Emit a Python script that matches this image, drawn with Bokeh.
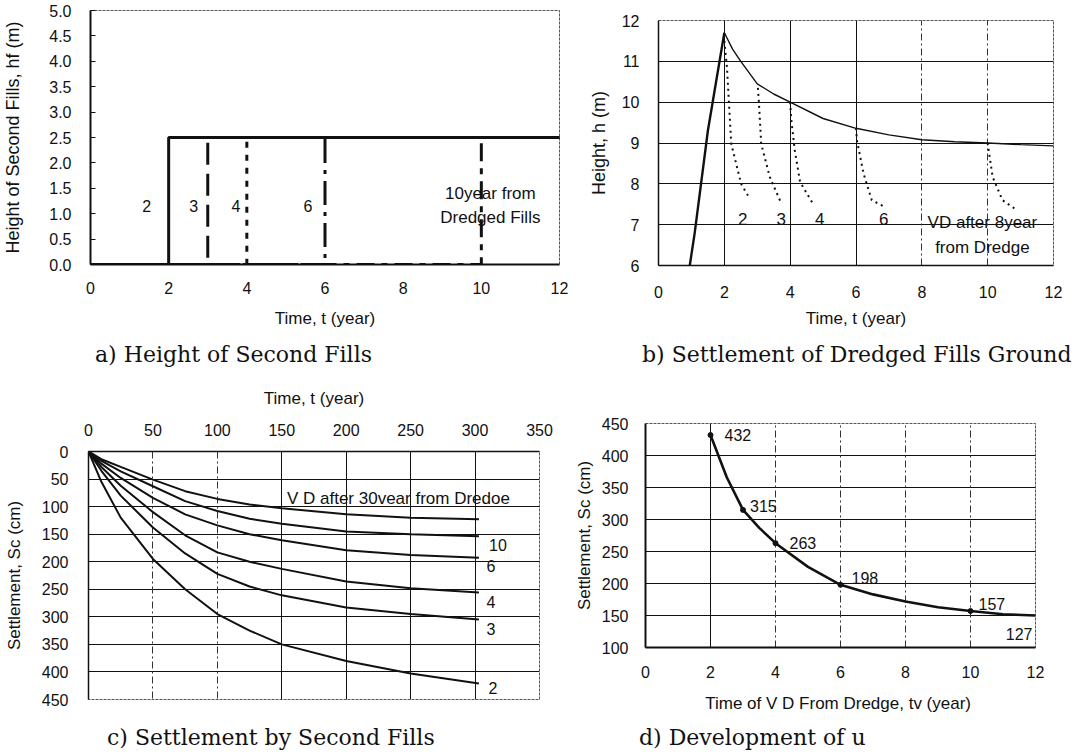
from bokeh.plotting import figure
from bokeh.layouts import column, row
from bokeh.models import Range1d, FixedTicker, Grid, Label, NumeralTickFormatter, Div
from bokeh.embed import file_html
from bokeh.resources import INLINE
from bokeh.core.properties import value

SANS = "Liberation Sans"
SERIF = "DejaVu Serif"
INK = "#111111"

# ---------------- data ----------------
# a) Height of Second Fills
a_vd_years = [2, 3, 4, 6, 10]
a_fill_height = 2.5
a_t_end = 12
a_vd_labels = ["2", "3", "4", "6"]
a_x_ticks = [0, 2, 4, 6, 8, 10, 12]
a_y_ticks = [0.0, 0.5, 1.0, 1.5, 2.0, 2.5, 3.0, 3.5, 4.0, 4.5, 5.0]

# b) Settlement of Dredged Fills Ground
b_fill_t = [0.95, 1.1, 1.5, 2.0]
b_fill_h = [6.0, 6.8, 9.3, 11.7]
b_settle_t = [2.0, 2.25, 2.5, 3.0, 3.5, 4.0, 5.0, 6.0, 7.0, 8.0, 9.0, 10.0, 11.0, 12.0]
b_settle_h = [11.7, 11.3, 11.0, 10.45, 10.2, 10.0, 9.6, 9.36, 9.2, 9.08, 9.03, 9.0, 8.96, 8.93]
b_vd_t = {
    2: [2.0, 2.08, 2.21, 2.51, 2.77],
    3: [3.02, 3.05, 3.12, 3.38, 3.73],
    4: [4.0, 4.03, 4.14, 4.30, 4.70],
    6: [6.0, 6.03, 6.23, 6.48, 6.84],
    10: [10.0, 10.01, 10.15, 10.45, 10.81],
}
b_vd_h = {
    2: [11.5, 10.85, 8.98, 8.0, 7.64],
    3: [10.35, 10.0, 8.98, 8.17, 7.52],
    4: [10.0, 9.6, 8.82, 8.05, 7.5],
    6: [9.36, 9.06, 8.25, 7.6, 7.45],
    10: [9.0, 8.94, 8.17, 7.6, 7.4],
}
b_curve_labels = ["2", "3", "4", "6"]
b_label_t = [2.56, 3.73, 4.9, 6.84]
b_label_h = [7.15, 7.15, 7.15, 7.15]
b_x_ticks = [0, 2, 4, 6, 8, 10, 12]
b_y_ticks = [6, 7, 8, 9, 10, 11, 12]

# c) Settlement by Second Fills
c_t = [0, 10, 25, 50, 75, 100, 125, 150, 200, 250, 303]
c_settle = {
    "2": [0, 55, 120, 195, 250, 295, 325, 350, 380, 403, 421],
    "3": [0, 35, 80, 138, 185, 222, 245, 261, 283, 295, 305],
    "4": [0, 28, 62, 110, 152, 183, 200, 213, 236, 248, 256],
    "6": [0, 22, 48, 84, 114, 134, 150, 161, 179, 188, 193],
    "10": [0, 17, 36, 63, 90, 108, 122, 131, 145, 150, 154],
    "30": [0, 14, 28, 51, 72, 86, 96, 103, 114, 120, 123],
}
c_labelled = ["10", "6", "4", "3", "2"]
c_x_ticks = [0, 50, 100, 150, 200, 250, 300, 350]
c_y_ticks = [0, 50, 100, 150, 200, 250, 300, 350, 400, 450]

# d) Development of u
d_tv = [2, 2.5, 3, 3.5, 4, 5, 6, 7, 8, 9, 10, 11, 12]
d_sc = [432, 366, 315, 287, 263, 226, 198, 183, 172, 163, 157, 152, 150]
d_pt_tv = [2, 3, 4, 6, 10, 12]
d_pt_sc = [432, 315, 263, 198, 157, 127]
d_x_ticks = [0, 2, 4, 6, 8, 10, 12]
d_y_ticks = [100, 150, 200, 250, 300, 350, 400, 450]

captions = ["a) Height of Second Fills", "b) Settlement of Dredged Fills Ground",
            "c) Settlement by Second Fills", "d) Development of u"]


# ---------------- helpers ----------------
def make_fig(width, height, xr, yr, borders, **kw):
    p = figure(width=width, height=height, x_range=Range1d(*xr), y_range=Range1d(*yr),
               output_backend="svg", toolbar_location=None, title=None,
               min_border_left=borders[0], min_border_right=borders[1],
               min_border_top=borders[2], min_border_bottom=borders[3], **kw)
    p.background_fill_color = "white"
    p.border_fill_color = "white"
    p.outline_line_color = "#555555"
    p.outline_line_width = 1
    p.outline_line_dash = "3 1"
    p.xgrid.grid_line_color = None
    p.ygrid.grid_line_color = None
    return p


def style_axis(ax, ticks, label, label_standoff, axis_label_standoff, tick_in=0, lw=1.5,
               label_size="17px"):
    ax.ticker = FixedTicker(ticks=ticks)
    ax.axis_label = label
    ax.axis_label_text_font = SANS
    ax.axis_label_text_font_size = label_size
    ax.axis_label_text_font_style = "normal"
    ax.axis_label_text_color = INK
    ax.axis_label_standoff = axis_label_standoff
    ax.major_label_text_font = SANS
    ax.major_label_text_font_size = "16px"
    ax.major_label_text_color = INK
    ax.major_label_standoff = label_standoff
    ax.major_tick_out = 0
    ax.major_tick_in = tick_in
    ax.major_tick_line_color = INK if tick_in else None
    ax.minor_tick_line_color = None
    ax.axis_line_color = INK
    ax.axis_line_width = lw


def caption_div(text, width, height, pad_left):
    html = ('<div style="padding-left:%dpx;font-family:\'DejaVu Serif\';font-size:22px;'
            'line-height:%dpx;white-space:nowrap;color:%s;">%s</div>' % (pad_left, height, INK, text))
    return Div(text=html, width=width, height=height, margin=(0, 0, 0, 0))


def add_grid(p, dim, ticks, dash="solid", color=INK, width=1):
    p.add_layout(Grid(dimension=dim, ticker=FixedTicker(ticks=ticks), grid_line_color=color,
                      grid_line_width=width, grid_line_dash=dash))


# ---------------- panel a ----------------
pa = make_fig(585, 340, (0, 12), (0, 5), (90, 26, 10, 76))
style_axis(pa.xaxis[0], a_x_ticks, "Time, t (year)", 17, 12, lw=2)
style_axis(pa.yaxis[0], a_y_ticks, "Height of Second Fills, hf (m)", 19, 23, tick_in=5, lw=2,
           label_size="18px")
pa.yaxis[0].formatter = NumeralTickFormatter(format="0.0")
a_dash = {2: "solid", 3: "22 9", 4: "6 7", 6: "24 7 4 7", 10: "18 7 6 7"}
for tv in reversed(a_vd_years):
    pa.line([0, tv, tv, a_t_end], [0, 0, a_fill_height, a_fill_height],
            line_color=INK, line_width=3, line_dash=a_dash[tv])
a_lab_dx = [-22, -14, -11, -17]
for lab, tv, dx in zip(a_vd_labels, a_vd_years, a_lab_dx):
    pa.text(x=[tv], y=[1.16], text=[lab], x_offset=dx, text_align="center", text_baseline="middle",
            text_font=value(SANS), text_font_size="16px", text_color=INK)
pa.add_layout(Label(x=a_vd_years[-1], y=1.16, x_offset=9, text="10year from\nDredged Fills",
                    text_align="center", text_baseline="middle", text_font=SANS,
                    text_font_size="17px", text_color=INK, text_line_height=1.3))

# ---------------- panel b ----------------
pb = make_fig(500, 340, (0, 12), (6, 12), (73, 32, 20, 75))
style_axis(pb.xaxis[0], b_x_ticks, "Time, t (year)", 20, 8)
style_axis(pb.yaxis[0], b_y_ticks, "Height, h (m)", 19, 10, label_size="18px")
add_grid(pb, 1, [7, 8, 9, 10, 11])
add_grid(pb, 0, [2, 4, 6])
add_grid(pb, 0, [8, 10], dash="7 3 2 3", color="#333333")
pb.line(b_fill_t, b_fill_h, line_color=INK, line_width=2.4)
pb.line(b_settle_t, b_settle_h, line_color=INK, line_width=1.4)
for k in b_vd_t:
    pb.line(b_vd_t[k], b_vd_h[k], line_color=INK, line_width=2, line_dash="2 4")
pb.text(x=b_label_t, y=b_label_h, text=b_curve_labels, text_align="center", text_baseline="middle",
        text_font=value(SANS), text_font_size="17px", text_color=INK)
pb.add_layout(Label(x=9.84, y=6.75, text="VD after 8year\nfrom Dredge", text_align="center",
                    text_baseline="middle", text_font=SANS, text_font_size="17px",
                    text_color=INK, text_line_height=1.3))

# ---------------- panel c ----------------
pc = make_fig(570, 354, (0, 350), (450, 0), (88, 31, 81, 25), x_axis_location="above")
style_axis(pc.xaxis[0], c_x_ticks, "Time, t (year)", 16, 13, lw=1.5)
style_axis(pc.yaxis[0], c_y_ticks, "Settlement, Sc (cm)", 20, 15, lw=1.5)
add_grid(pc, 1, c_y_ticks[1:-1])
add_grid(pc, 0, [150, 200, 250, 300])
add_grid(pc, 0, [50, 100], dash="7 3 2 3", color="#333333")
for key, vals in c_settle.items():
    pc.line(c_t, vals, line_color=INK, line_width=2)
c_lab_off = {"10": (19, -9), "6": (12, -8), "4": (12, -9), "3": (12, -9), "2": (14, -4)}
for key in c_labelled:
    dx, dy = c_lab_off[key]
    pc.text(x=[c_t[-1]], y=[c_settle[key][-1]], text=[key], x_offset=dx, y_offset=-dy,
            text_align="center", text_baseline="middle", text_font=value(SANS),
            text_font_size="16px", text_color=INK)
pc.add_layout(Label(x=154, y=86, text="V D after 30vear from Dredoe", text_align="left",
                    text_baseline="middle", text_font=SANS, text_font_size="17px", text_color=INK))

# ---------------- panel d ----------------
pd_ = make_fig(515, 354, (0, 12), (100, 450), (75, 50, 53, 77))
style_axis(pd_.xaxis[0], d_x_ticks, "Time of V D From Dredge, tv  (year)", 18, 13, lw=2)
style_axis(pd_.yaxis[0], d_y_ticks, "Settlement, Sc (cm)", 17, 5, lw=2)
add_grid(pd_, 1, d_y_ticks[1:-1])
add_grid(pd_, 0, [2])
add_grid(pd_, 0, [4, 6, 8, 10], dash="7 3 2 3", color="#333333")
pd_.line(d_tv, d_sc, line_color=INK, line_width=2.6)
pd_.scatter(d_pt_tv[:-1], d_pt_sc[:-1], size=5, color=INK)
d_lab_off = [(14, 0), (7, -4), (14, 0), (11, -7), (8, -7), (-3, 4)]
d_lab_align = ["left", "left", "left", "left", "left", "right"]
for tv, sc, (dx, dy), al in zip(d_pt_tv, d_pt_sc, d_lab_off, d_lab_align):
    pd_.text(x=[tv], y=[sc], text=[str(sc)], x_offset=dx, y_offset=dy, text_align=al,
             text_baseline="middle", text_font=value(SANS), text_font_size="16px", text_color=INK)

# ---------------- captions & layout ----------------
cap_a = caption_div(captions[0], 585, 30, 95)
cap_b = caption_div(captions[1], 500, 30, 57)
cap_c = caption_div(captions[2], 570, 28, 107)
cap_d = caption_div(captions[3], 515, 28, 69)

layout = column(
    row(column(pa), column(pb)),
    row(cap_a, cap_b),
    row(column(pc), column(pd_)),
    row(cap_c, cap_d),
)
open("out.html", "w").write(file_html(layout, INLINE))
